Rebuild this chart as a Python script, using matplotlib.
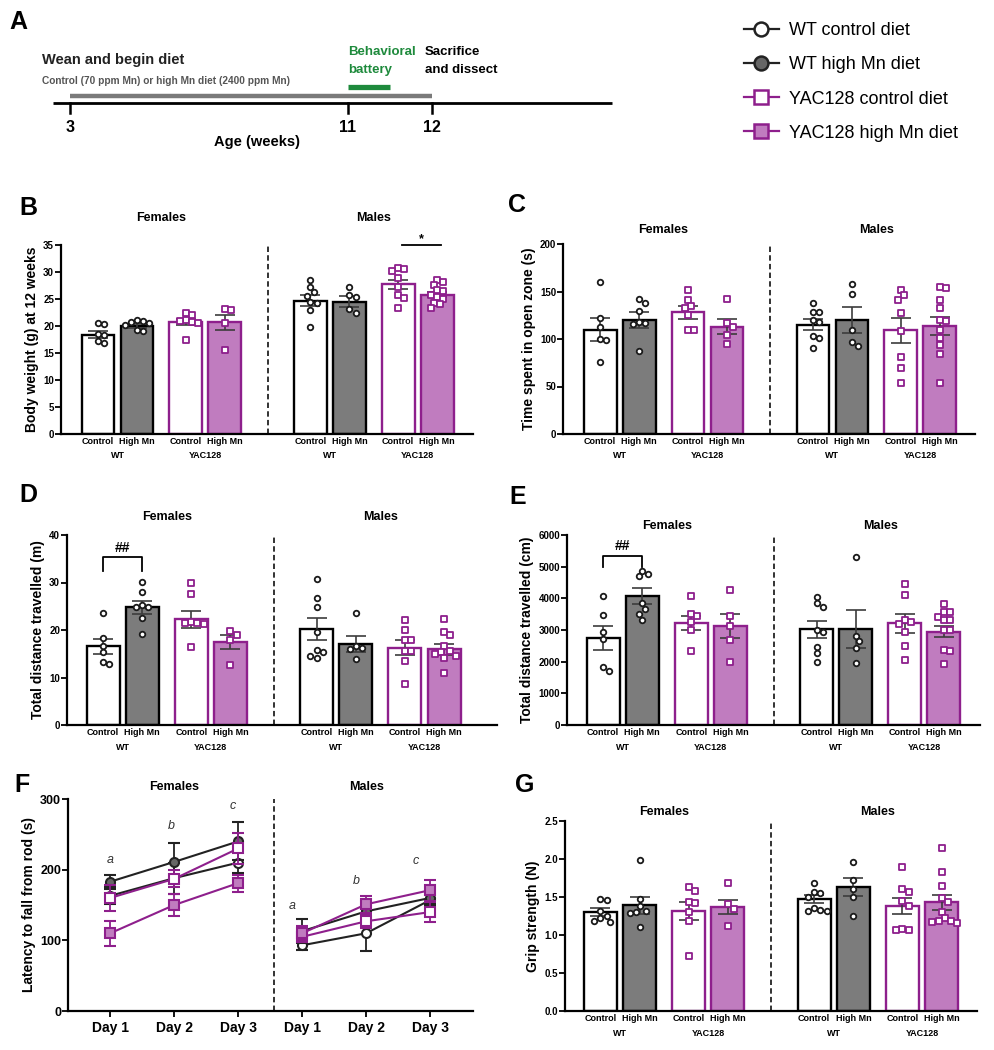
import numpy as np
import matplotlib
matplotlib.use('Agg')
import matplotlib.pyplot as plt
from matplotlib.lines import Line2D
from matplotlib import transforms

plt.rcParams['font.family'] = ['Liberation Sans', 'DejaVu Sans']

W, H = 994, 1050
fig = plt.figure(figsize=(W / 100, H / 100), dpi=100)


def px_axes(l, t, r, b):
    return fig.add_axes([l / W, 1 - b / H, (r - l) / W, (b - t) / H])


# ---------------- data ----------------
group_names = ['WT control diet', 'WT high Mn diet', 'YAC128 control diet', 'YAC128 high Mn diet']
bar_labels = ['Control', 'High Mn'] * 4
geno_labels = ['WT', 'YAC128', 'WT', 'YAC128']
sex_labels = ['Females', 'Males']

timeline_weeks = ['3', '11', '12']

# B body weight
bw_means = [18.4, 20.0, 20.7, 20.7, 24.7, 24.5, 27.7, 25.8]
bw_sems = [0.7, 0.4, 0.6, 1.4, 1.0, 1.0, 0.9, 0.5]
bw_points = [
    [20.4, 20.6, 18.6, 18.3, 16.8, 17.2],
    [21.1, 21.0, 20.8, 20.5, 20.2, 19.3, 19.0],
    [22.4, 22.1, 21.2, 21.0, 20.8, 20.6, 17.5],
    [23.1, 23.0, 20.5, 15.6],
    [28.5, 27.3, 26.3, 25.5, 24.5, 24.2, 23.0, 19.8],
    [27.3, 25.8, 25.3, 23.2, 22.5],
    [30.8, 30.5, 30.1, 28.8, 27.2, 25.8, 25.2, 23.4],
    [28.6, 28.1, 27.6, 26.6, 26.4, 25.8, 25.3, 25.0, 24.3, 23.3, 24.0],
]

# C open zone time
oz_means = [110, 120, 128, 113, 115, 120, 109, 114]
oz_sems = [12, 8, 6.5, 8, 6, 13.5, 13, 9.5]
oz_points = [
    [160, 122, 113, 100, 99, 76],
    [142, 138, 129, 118, 117, 116, 87],
    [152, 141, 135, 133, 125, 110, 110],
    [142, 117, 113, 104, 95],
    [138, 128, 128, 120, 118, 103, 101, 91],
    [158, 147, 110, 97, 93],
    [152, 146, 141, 127, 108, 81, 69, 54],
    [155, 154, 141, 133, 120, 119, 110, 101, 94, 84, 54],
]

# D distance (m)
dm_means = [16.6, 24.8, 22.3, 17.5, 20.2, 17.1, 16.3, 15.9]
dm_sems = [1.6, 1.4, 1.8, 1.4, 2.3, 1.7, 1.5, 1.1]
dm_points = [
    [23.6, 18.4, 16.7, 15.3, 13.3, 12.8],
    [30.1, 27.9, 25.3, 24.9, 22.5, 19.1, 24.8],
    [29.8, 27.5, 21.6, 21.5, 21.4, 21.3, 16.4],
    [19.8, 18.9, 18.0, 12.6],
    [30.8, 26.8, 24.8, 19.6, 15.7, 15.4, 14.6, 14.2],
    [23.5, 16.7, 16.2, 16.0, 13.8],
    [22.2, 19.9, 17.9, 17.8, 15.6, 15.5, 13.5, 8.6],
    [22.3, 19.5, 19.0, 16.6, 15.6, 15.4, 15.0, 14.5, 14.2, 11.0],
]

# E distance (cm)
dc_means = [2750, 4080, 3220, 3130, 3020, 3030, 3210, 2950]
dc_sems = [390, 260, 210, 380, 280, 590, 290, 180]
dc_points = [
    [4080, 3460, 2950, 2720, 1830, 1700],
    [4870, 4780, 4690, 3840, 3650, 3500, 3320],
    [4080, 3520, 3440, 3250, 3010, 2330],
    [4250, 3450, 3120, 2700, 1990],
    [4050, 3850, 3730, 3010, 2950, 2470, 2260, 1990],
    [5320, 2820, 2650, 2440, 1960],
    [4460, 4110, 3330, 3250, 3200, 2950, 2500, 2050],
    [3830, 3560, 3560, 3410, 3330, 3310, 3000, 2990, 2370, 2340, 1940],
]

# F rotarod
days = ['Day 1', 'Day 2', 'Day 3']
rr_f_means = [[163, 188, 210], [183, 211, 240], [160, 187, 230], [110, 150, 181]]
rr_f_sems = [[12, 22, 15], [10, 27, 27], [18, 12, 22], [18, 15, 12]]
rr_m_means = [[93, 110, 157], [113, 141, 160], [105, 127, 140], [110, 151, 171]]
rr_m_sems = [[7, 25, 8], [17, 10, 8], [8, 10, 14], [10, 12, 15]]
rr_letters = ['a', 'b', 'c', 'a', 'b', 'c']
rr_letter_y = [214, 262, 290, 148, 184, 212]

# G grip strength
gs_means = [1.30, 1.39, 1.32, 1.37, 1.47, 1.63, 1.38, 1.43]
gs_sems = [0.055, 0.11, 0.12, 0.09, 0.05, 0.12, 0.11, 0.10]
gs_points = [
    [1.47, 1.46, 1.31, 1.25, 1.22, 1.17, 1.19],
    [1.99, 1.48, 1.38, 1.31, 1.30, 1.29, 1.10],
    [1.63, 1.58, 1.44, 1.42, 1.30, 1.18, 0.72],
    [1.68, 1.41, 1.34, 1.12],
    [1.69, 1.56, 1.55, 1.50, 1.35, 1.33, 1.31, 1.32],
    [1.96, 1.73, 1.61, 1.50, 1.25],
    [1.89, 1.60, 1.56, 1.45, 1.38, 1.07, 1.08, 1.06],
    [2.15, 1.83, 1.65, 1.49, 1.44, 1.30, 1.22, 1.19, 1.17, 1.18, 1.16],
]

# ---------------- styles ----------------
PURPLE = '#8e1f8c'
PURPLE_FILL = '#c07cbf'
GRAY_FILL = '#7c7c7c'
ERR = '#3c3c3c'
FACE = ['white', GRAY_FILL, 'white', PURPLE_FILL]
EDGE = ['black', 'black', PURPLE, PURPLE]
PT_EDGE = ['#1a1a1a', '#1a1a1a', PURPLE, PURPLE]
MARK = ['o', 'o', 's', 's']
LINE_FACE = ['white', '#666666', 'white', PURPLE_FILL]
LINE_COL = ['#222222', '#222222', PURPLE, PURPLE]
GREEN = '#1e8a3c'

bar_pos = [0, 1, 2.25, 3.25, 5.45, 6.45, 7.7, 8.7]
divider = 4.35
DASH = (0, (3, 1.8))


def swarm(vals, dx, dy):
    vals = np.asarray(vals, float)
    order = np.argsort(-vals)
    offs = np.zeros(len(vals))
    placed = []
    cands = [0.0]
    for k in range(1, 20):
        cands += [k * dx * 0.5, -k * dx * 0.5]
    for idx in order:
        v = vals[idx]
        for c in cands:
            ok = True
            for (o, w) in placed:
                if ((o - c) / dx) ** 2 + ((w - v) / dy) ** 2 < 1.0:
                    ok = False
                    break
            if ok:
                offs[idx] = c
                placed.append((c, v))
                break
    return offs


def style_axes(ax, ysize=7):
    for s in ['top', 'right']:
        ax.spines[s].set_visible(False)
    for s in ['left', 'bottom']:
        ax.spines[s].set_linewidth(1.6)
    ax.tick_params(axis='y', length=4, width=1.3, labelsize=ysize, pad=1)


def bar_panel(box, means, sems, pts, ylim, yticks, ylabel, xlim, title_dy, yfmt=None):
    l, t, r, b = box
    ax = px_axes(l, t, r, b)
    ax.set_xlim(*xlim)
    ax.set_ylim(*ylim)
    ax_h = b - t
    ppu_x = (r - l) / (xlim[1] - xlim[0])
    dx = 6.2 / ppu_x
    dy = 6.2 / ax_h * (ylim[1] - ylim[0])
    for i, (p, m, s, vals) in enumerate(zip(bar_pos, means, sems, pts)):
        g = i % 4
        ax.bar(p, m, width=0.84, color=FACE[g], edgecolor=EDGE[g], linewidth=1.7, zorder=2)
        ax.errorbar(p, m, yerr=s, color=ERR, capsize=7, elinewidth=1.2, capthick=1.2, zorder=3)
        offs = swarm(vals, dx, dy)
        ax.scatter(p + offs, vals, marker=MARK[g], s=16 if MARK[g] == 'o' else 14,
                   facecolor='white', edgecolor=PT_EDGE[g], linewidth=1.3, zorder=5, clip_on=False)
    ax.axvline(divider, color='#222222', lw=1.3, ls=DASH, zorder=1)
    ax.set_yticks(yticks)
    if yfmt:
        ax.set_yticklabels([yfmt % v for v in yticks])
    style_axes(ax)
    plt.setp(ax.get_yticklabels(), fontweight='bold')
    ax.set_xticks(bar_pos)
    ax.set_xticklabels(bar_labels, fontsize=6.5, fontweight='bold')
    ax.tick_params(axis='x', length=0, pad=2.5)
    ax.set_ylabel(ylabel, fontsize=10, fontweight='bold', labelpad=3)
    trans = transforms.blended_transform_factory(ax.transData, ax.transAxes)
    for k in range(4):
        xm = (bar_pos[2 * k] + bar_pos[2 * k + 1]) / 2
        ax.annotate(geno_labels[k], xy=(xm, 0), xycoords=trans, xytext=(0, -22 * 0.72),
                    textcoords='offset points', ha='center', va='center',
                    fontsize=6.5, fontweight='bold')
    for k, sx in enumerate(sex_labels):
        xm = (bar_pos[4 * k] + bar_pos[4 * k + 3]) / 2
        ax.annotate(sx, xy=(xm, 1), xycoords=trans, xytext=(0, title_dy * 0.72),
                    textcoords='offset points', ha='center', va='center',
                    fontsize=9, fontweight='bold')
    return ax


# ---------------- Panel A ----------------
axA = px_axes(0, 0, 994, 165)
axA.set_xlim(0, 994)
axA.set_ylim(165, 0)
axA.axis('off')
tick_x = [70, 348, 432]
axA.plot([53, 612], [103, 103], color='black', lw=2, solid_capstyle='butt')
axA.plot([tick_x[0], tick_x[2]], [96, 96], color='#7a7a7a', lw=3.2, solid_capstyle='butt')
axA.plot([tick_x[1], 390], [87, 87], color=GREEN, lw=3.8, solid_capstyle='butt')
for tx, lab in zip(tick_x, timeline_weeks):
    axA.plot([tx, tx], [103, 113], color='black', lw=1.8)
    axA.text(tx, 128, lab, ha='center', va='center', fontsize=11.5, fontweight='bold')
axA.text(257, 142, 'Age (weeks)', ha='center', va='center', fontsize=10.5, fontweight='bold')
axA.text(42, 60, 'Wean and begin diet', ha='left', va='center', fontsize=10.5, fontweight='bold',
         color='#222222')
axA.text(42, 81, 'Control (70 ppm Mn) or high Mn diet (2400 ppm Mn)', ha='left', va='center',
         fontsize=7.3, fontweight='bold', color='#555555')
axA.text(348, 52, 'Behavioral', ha='left', va='center', fontsize=9.5, fontweight='bold', color=GREEN)
axA.text(348, 70, 'battery', ha='left', va='center', fontsize=9.5, fontweight='bold', color=GREEN)
axA.text(425, 52, 'Sacrifice', ha='left', va='center', fontsize=9.5, fontweight='bold')
axA.text(425, 70, 'and dissect', ha='left', va='center', fontsize=9.5, fontweight='bold')

# legend
handles = []
for g in range(4):
    handles.append(Line2D([0], [0], color=LINE_COL[g], lw=1.6, marker=MARK[g], markersize=10,
                          markerfacecolor=LINE_FACE[g], markeredgecolor=LINE_COL[g],
                          markeredgewidth=1.8))
fig.legend(handles, group_names, loc='upper left', bbox_to_anchor=(728 / W, 1 - 6 / H),
           frameon=False, fontsize=13, handlelength=1.9, labelspacing=0.95, handletextpad=0.6)

# ---------------- bar panels ----------------
axB = bar_panel((61, 245, 473, 434), bw_means, bw_sems, bw_points, (0, 35), range(0, 36, 5),
                'Body weight (g) at 12 weeks', (-0.95, 9.62), 27)
axB.plot([7.8, 8.8], [35, 35], color='black', lw=1.3, clip_on=False)
axB.text(8.3, 36.0, '*', ha='center', va='center', fontsize=9, fontweight='bold')

axC = bar_panel((563, 244, 975, 434), oz_means, oz_sems, oz_points, (0, 200), range(0, 201, 50),
                'Time spent in open zone (s)', (-0.95, 9.6), 14)

axD = bar_panel((67, 535, 497, 725), dm_means, dm_sems, dm_points, (0, 40), range(0, 41, 10),
                'Total distance travelled (m)', (-0.92, 10.05), 18)
axD.plot([0, 0, 1, 1], [32.5, 35.3, 35.3, 32.5], color='black', lw=1.3)
axD.text(0.5, 37.3, '##', ha='center', va='center', fontsize=10, fontweight='bold')

axE = bar_panel((567, 535, 980, 725), dc_means, dc_sems, dc_points, (0, 6000), range(0, 6001, 1000),
                'Total distance travelled (cm)', (-0.92, 9.62), 9)
axE.plot([0, 0, 1, 1], [5000, 5350, 5350, 5000], color='black', lw=1.3)
axE.text(0.5, 5650, '##', ha='center', va='center', fontsize=10, fontweight='bold')

axG = bar_panel((565, 821, 977, 1011), gs_means, gs_sems, gs_points, (0, 2.5),
                [0, 0.5, 1.0, 1.5, 2.0, 2.5], 'Grip strength (N)', (-0.9, 9.6), 9, yfmt='%.1f')

# ---------------- Panel F ----------------
axF = px_axes(68, 799, 473, 1011)
xf = np.array([0, 1, 2])
xm = np.array([3, 4, 5])
f_div = 2.56
for g in [0, 1, 2, 3]:
    for xs, mu, se in [(xf, rr_f_means[g], rr_f_sems[g]), (xm, rr_m_means[g], rr_m_sems[g])]:
        axF.errorbar(xs, mu, yerr=se, color=LINE_COL[g], lw=1.5, capsize=4, capthick=1.3,
                     elinewidth=1.3, marker=MARK[g], markersize=6.5, markerfacecolor=LINE_FACE[g],
                     markeredgecolor=LINE_COL[g], markeredgewidth=1.5, zorder=3 + g)
axF.axvline(f_div, color='#222222', lw=1.3, ls=DASH, zorder=1)
letter_x = [0, 0.95, 1.92, 2.85, 3.85, 4.78]
for lx, ly, lt in zip(letter_x, rr_letter_y, rr_letters):
    axF.text(lx, ly, lt, ha='center', va='center', fontsize=9, style='italic', color='#333333')
axF.set_xlim(-0.66, 5.67)
axF.set_ylim(0, 300)
axF.set_yticks([0, 100, 200, 300])
style_axes(axF, ysize=9)
plt.setp(axF.get_yticklabels(), fontweight='bold')
axF.set_xticks(list(xf) + list(xm))
axF.set_xticklabels(days * 2, fontsize=10, fontweight='bold')
axF.tick_params(axis='x', length=4, width=1.3, pad=3)
axF.set_ylabel('Latency to fall from rod (s)', fontsize=10, fontweight='bold', labelpad=3)
transF = transforms.blended_transform_factory(axF.transData, axF.transAxes)
for k, sx in enumerate(sex_labels):
    axF.annotate(sx, xy=(1 + 3 * k, 1), xycoords=transF, xytext=(0, 12 * 0.72),
                 textcoords='offset points', ha='center', va='center', fontsize=9, fontweight='bold')

# panel letters
for lab, (x, y) in zip('ABCDEFG', [(18, 22), (28, 208), (517, 205), (28, 495), (518, 497),
                                   (22, 785), (525, 785)]):
    fig.text(x / W, 1 - y / H, lab, ha='center', va='center', fontsize=18, fontweight='bold')

fig.savefig('out.png', dpi=100)
